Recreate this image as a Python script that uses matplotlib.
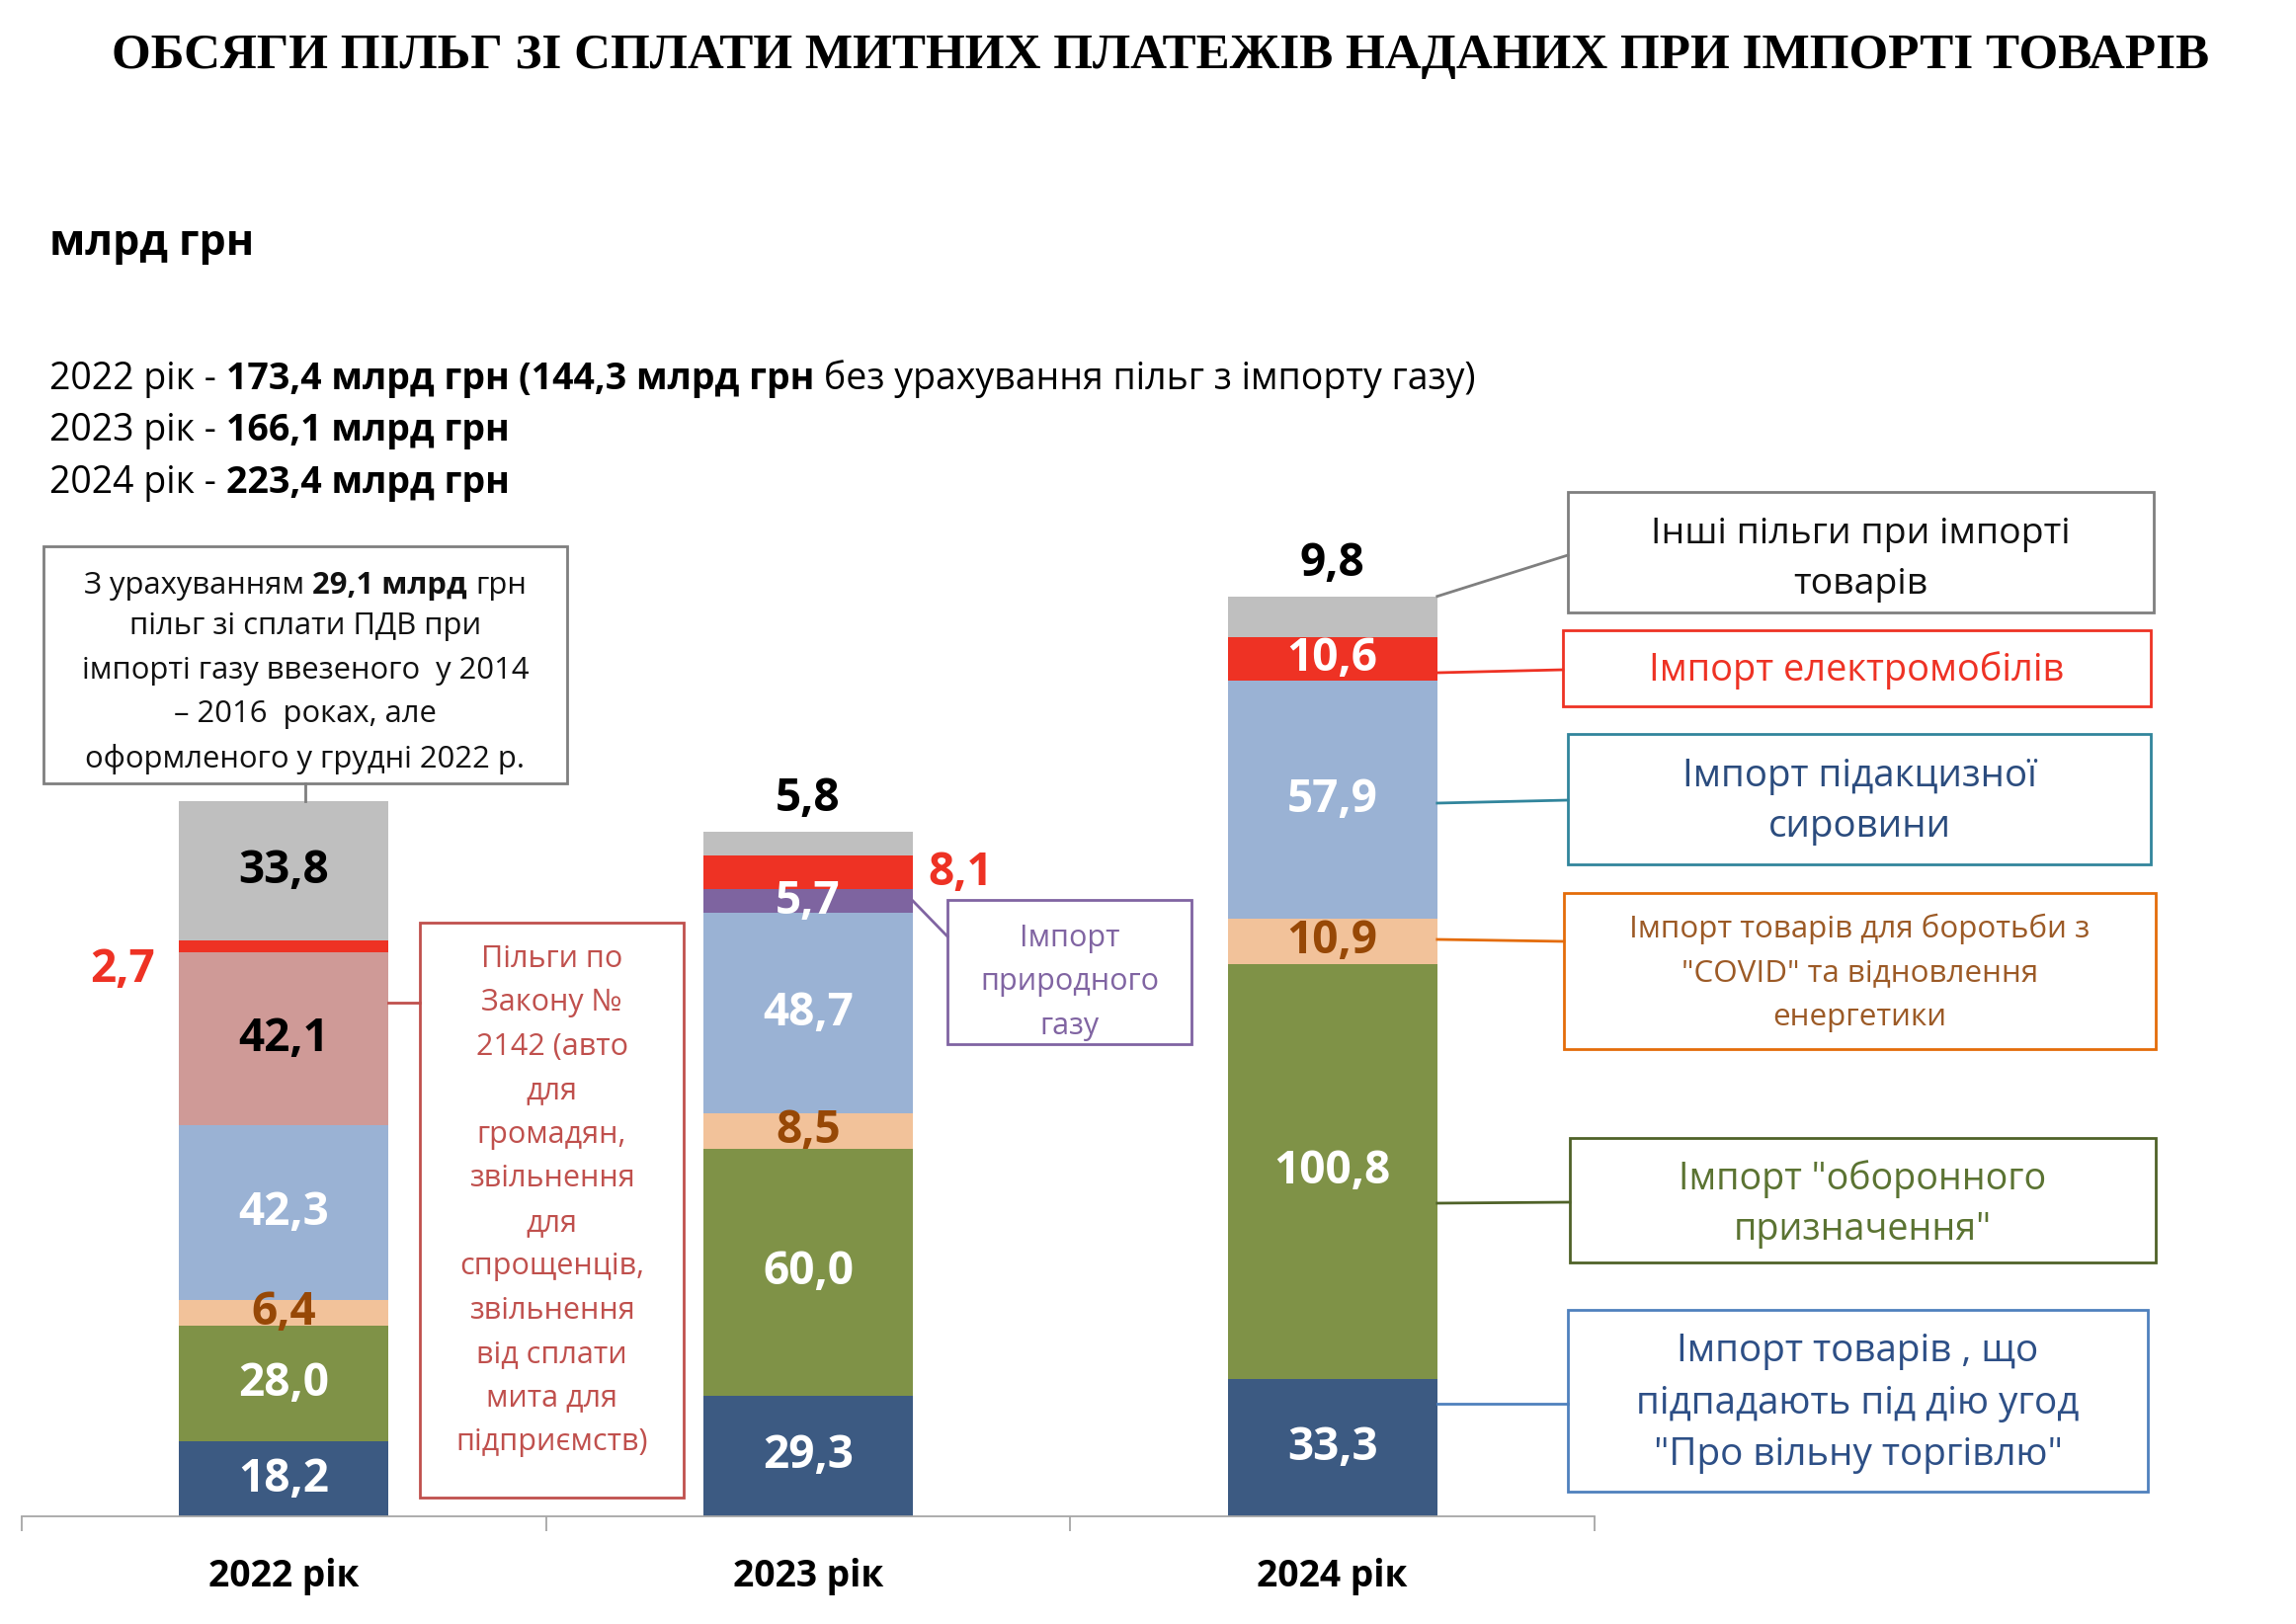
#!/usr/bin/env python3
"""
Stacked bar chart: customs payment benefits granted on import of goods, 2022-2024.
"""

import numpy as np
import matplotlib
matplotlib.use('Agg')
import matplotlib.pyplot as plt
from matplotlib.patches import Rectangle
from matplotlib.lines import Line2D

# Output size in pixels
W, H = 2324, 1644
DPI = 100

# Data, billion UAH (segments from bottom to top)
YEARS = ['2022 рік', '2023 рік', '2024 рік']
FTA = [18.2, 29.3, 33.3]          # free trade agreements
DEFENSE = [28.0, 60.0, 100.8]     # defence imports
COVID = [6.4, 8.5, 10.9]          # covid / energy recovery
EXCISE = [42.3, 48.7, 57.9]       # excisable raw materials
LAW_2142 = [42.1, 0.0, 0.0]       # law No 2142
GAS = [0.0, 5.7, 0.0]             # natural gas
EV = [2.7, 8.1, 10.6]             # electric cars
OTHER = [33.8, 5.8, 9.8]          # other benefits
TOTALS = ['173,4', '166,1', '223,4']
TOTAL_2022_NO_GAS = '144,3'
GAS_VAT_2022 = '29,1'

TITLE = 'ОБСЯГИ ПІЛЬГ ЗІ СПЛАТИ МИТНИХ ПЛАТЕЖІВ НАДАНИХ ПРИ ІМПОРТІ ТОВАРІВ'

BROWN = '#974806'
RED = '#EE3224'
GRAY = '#BFBFBF'
SERIES = [
    (FTA, '#3C5A82', 'white'),
    (DEFENSE, '#7F9247', 'white'),
    (COVID, '#F2C29A', BROWN),
    (EXCISE, '#9AB2D4', 'white'),
    (LAW_2142, '#CF9A97', 'black'),
    (GAS, '#7E64A0', 'white'),
    (EV, RED, 'white'),
    (OTHER, GRAY, 'black'),
]
BAR_W = 0.4
LABEL_SIZE = 33

plt.rcParams['font.family'] = ['Open Sans', 'DejaVu Sans']

fig = plt.figure(figsize=(W / DPI, H / DPI), dpi=DPI)
ax = fig.add_axes([22 / W, 1 - 1535 / H, 1592 / W, 1001 / H])


def fx(px):
    return px / W


def fy(py):
    return 1 - py / H


def data_px(xd, yd):
    X, Y = ax.transData.transform((xd, yd))
    return X, H - Y


def fmt(v):
    return f'{v:.1f}'.replace('.', ',')


# Stacked bars with value labels
x = np.arange(len(YEARS))
bottom = np.zeros(len(YEARS))
for vals, color, lab_color in SERIES:
    vals = np.array(vals)
    ax.bar(x, vals, BAR_W, bottom=bottom, color=color, linewidth=0)
    for i, v in enumerate(vals):
        if v <= 0:
            continue
        yc = bottom[i] + v / 2
        if color == RED and i == 0:
            # thin segment: label to the left of the bar
            ax.text(i - BAR_W / 2 - 0.045, yc, fmt(v), ha='right', va='top',
                    color=RED, fontsize=LABEL_SIZE, fontweight='bold')
        elif color == RED and i == 1:
            ax.text(i + BAR_W / 2 + 0.028, yc, fmt(v), ha='left', va='center',
                    color=RED, fontsize=LABEL_SIZE, fontweight='bold')
        elif color == GRAY and i > 0:
            ax.annotate(fmt(v), (i, bottom[i] + v), xytext=(0, 24),
                        textcoords='offset points', ha='center', va='center',
                        color='black', fontsize=LABEL_SIZE, fontweight='bold')
        else:
            ax.text(i, yc, fmt(v), ha='center', va='center', color=lab_color,
                    fontsize=LABEL_SIZE, fontweight='bold')
    bottom += vals

ax.set_xlim(-0.5, 2.5)
ax.set_ylim(0, 240)
for s in ['left', 'right', 'top']:
    ax.spines[s].set_visible(False)
ax.spines['bottom'].set_color('#A6A6A6')
ax.spines['bottom'].set_linewidth(1.3)
ax.set_yticks([])
ax.set_xticks(x)
ax.set_xticklabels(YEARS, fontsize=26.8, fontweight='bold')
ax.set_xticks(np.arange(-0.5, 3, 1), minor=True)
ax.tick_params(axis='x', which='major', length=0, pad=30)
ax.tick_params(axis='x', which='minor', length=11, color='#A6A6A6', width=1.3)

renderer = fig.canvas.get_renderer()


def text_width(s, size, weight):
    t = fig.text(0, 0, s, fontsize=size, fontweight=weight)
    w = t.get_window_extent(renderer).width
    t.remove()
    return w


def rich_line(xp, yp, parts, size, color='black', ha='left'):
    """Draw pieces of text with mixed weight on one baseline (pixel coords)."""
    gap = text_width('н н', size, 'normal') - text_width('нн', size, 'normal')
    widths = [text_width(s, size, w) for s, w in parts]
    total = sum(widths) + gap * (len(parts) - 1)
    start = xp - total / 2 if ha == 'center' else xp
    base = yp + 0.357 * size * DPI / 72
    for (s, w), wd in zip(parts, widths):
        fig.text(fx(start), fy(base), s, fontsize=size, fontweight=w,
                 color=color, ha='left', va='baseline')
        start += wd + gap


def box(x0, y0, x1, y1, edge, lines, color, size, line_y, lw=2.0):
    fig.add_artist(Rectangle((fx(x0), fy(y1)), (x1 - x0) / W, (y1 - y0) / H,
                             transform=fig.transFigure, facecolor='none',
                             edgecolor=edge, linewidth=lw))
    cx = (x0 + x1) / 2
    for s, yl in zip(lines, line_y):
        if s is None:
            continue
        fig.text(fx(cx), fy(yl), s, fontsize=size, color=color,
                 ha='center', va='center')


def connector(p0, p1, color, lw=2.0):
    fig.add_artist(Line2D([fx(p0[0]), fx(p1[0])], [fy(p0[1]), fy(p1[1])],
                          transform=fig.transFigure, color=color, linewidth=lw))


# Title and header
fig.text(fx(1175), fy(57), TITLE, ha='center', va='center',
         family='Liberation Serif', fontweight='bold', fontsize=36.8)
fig.text(fx(50), fy(247), 'млрд грн', ha='left', va='center',
         fontweight='bold', fontsize=31)
rich_line(50, 381, [(f'{YEARS[0]} -', 'normal'), (f'{TOTALS[0]} млрд грн', 'bold'),
                    (f'({TOTAL_2022_NO_GAS} млрд грн', 'bold'),
                    ('без урахування пільг з імпорту газу)', 'normal')], 27)
rich_line(50, 433, [(f'{YEARS[1]} -', 'normal'), (f'{TOTALS[1]} млрд грн', 'bold')], 27)
rich_line(50, 486, [(f'{YEARS[2]} -', 'normal'), (f'{TOTALS[2]} млрд грн', 'bold')], 27)

# Note over 2022 bar
box(44, 553, 574, 793, '#7F7F7F',
    [None, 'пільг зі сплати ПДВ при', 'імпорті газу ввезеного  у 2014',
     '– 2016  роках, але', 'оформленого у грудні 2022 р.'],
    '#111111', 22.3, [590, 634, 679, 723, 768])
rich_line(309, 590, [('З урахуванням', 'normal'), (f'{GAS_VAT_2022} млрд', 'bold'),
                     ('грн', 'normal')], 22.3, color='#111111', ha='center')
top0 = data_px(0, sum(s[0][0] for s in SERIES))
connector((309, 793), (309, top0[1]), '#7F7F7F')

# Law 2142 note
law_lines = ['Пільги по', 'Закону №', '2142 (авто', 'для', 'громадян,',
             'звільнення', 'для', 'спрощенців,', 'звільнення', 'від сплати',
             'мита для', 'підприємств)']
box(425, 934, 692, 1516, '#C0504D', law_lines, '#C0504D', 22,
    [971 + 44.45 * k for k in range(len(law_lines))])
edge0 = data_px(BAR_W / 2, 0)[0]
connector((edge0, 1015), (425, 1015), '#C0504D')

# Gas note for 2023
box(959, 911, 1206, 1057, '#8064A2', ['Імпорт', 'природного', 'газу'],
    '#8064A2', 22, [950, 994, 1039])
gas_y = FTA[1] + DEFENSE[1] + COVID[1] + EXCISE[1] + GAS[1] / 2
p = data_px(1 + BAR_W / 2, gas_y)
connector(p, (959, 948), '#8064A2')

# 2024 legend-like boxes
edge2 = data_px(2 + BAR_W / 2, 0)[0]
top2 = data_px(2 + BAR_W / 2, sum(s[0][2] for s in SERIES))
box(1587, 498, 2180, 620, '#7F7F7F', ['Інші пільги при імпорті', 'товарів'],
    '#111111', 26.9, [541, 592])
connector(top2, (1587, 562), '#7F7F7F')

box(1582, 638, 2177, 715, RED, ['Імпорт електромобілів'], RED, 27.4, [679])
connector((edge2, 681), (1582, 678), RED)

box(1587, 743, 2177, 875, '#31859C', ['Імпорт підакцизної', 'сировини'],
    '#2B4C7E', 27.7, [786, 837])
connector((edge2, 813), (1587, 810), '#31859C')

box(1583, 904, 2182, 1062, '#E46C0A',
    ['Імпорт товарів для боротьби з', '"COVID" та відновлення', 'енергетики'],
    '#9C5A26', 22.6, [940, 985, 1030])
connector((edge2, 951), (1583, 953), '#E46C0A')

box(1589, 1152, 2182, 1278, '#4F6228', ['Імпорт "оборонного', 'призначення"'],
    '#5B7332', 27.1, [1194, 1245])
connector((edge2, 1218), (1589, 1217), '#4F6228')

box(1587, 1326, 2174, 1510, '#4F81BD',
    ['Імпорт товарів , що', 'підпадають під дію угод', '"Про вільну торгівлю"'],
    '#2D4F86', 27.8, [1368, 1421, 1473])
connector((edge2, 1421), (1587, 1421), '#4F81BD')

fig.savefig('out.png', dpi=DPI, facecolor='white')
